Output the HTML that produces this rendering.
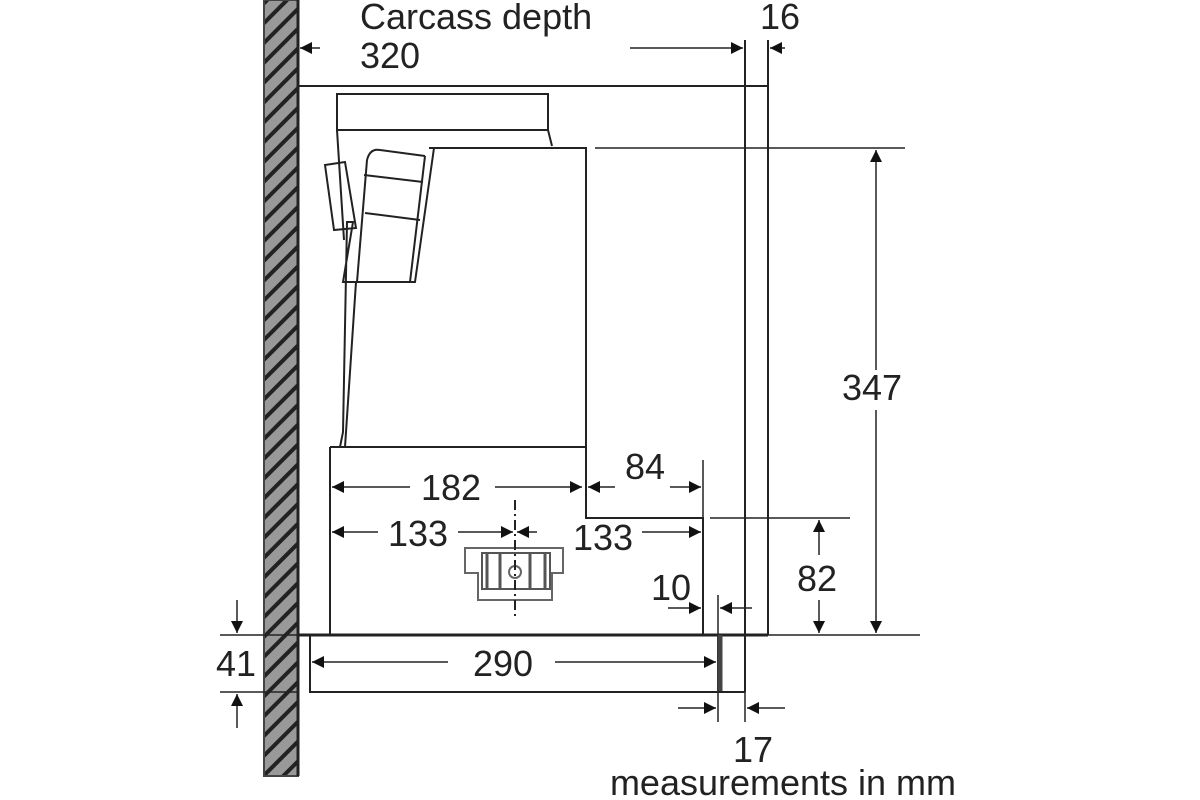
<!DOCTYPE html>
<html><head><style>html,body{margin:0;padding:0;background:#fff}svg{display:block}</style></head>
<body>
<svg width="1200" height="800" viewBox="0 0 1200 800" xmlns="http://www.w3.org/2000/svg" font-family="Liberation Sans, sans-serif" fill="none" stroke="#222" stroke-width="2">
<defs>
<pattern id="h" width="14" height="14" patternUnits="userSpaceOnUse" patternTransform="rotate(-45)">
<rect width="14" height="14" fill="#999" stroke="none"/><line x1="0" y1="7" x2="14" y2="7" stroke="#222" stroke-width="4"/>
</pattern>
<marker id="a" viewBox="0 0 10 10" refX="10" refY="5" markerWidth="16" markerHeight="12" markerUnits="userSpaceOnUse" orient="auto"><path d="M0,0L10,5L0,10z" fill="#111" stroke="none"/></marker>
</defs>
<rect x="264" y="0" width="34" height="776" fill="url(#h)" stroke="#444"/>
<line x1="298" y1="0" x2="298" y2="776" stroke-width="3"/>
<path d="M298 86H768V635"/>
<line x1="745" y1="40" x2="745" y2="692"/>
<line x1="768" y1="40" x2="768" y2="86"/>
<line x1="298" y1="635" x2="768" y2="635" stroke-width="3"/>
<rect x="337" y="94" width="211" height="36"/>
<path d="M337 130L344 240M548 130L552 146"/>
<path d="M325 165L345 162L356 228L334 230z"/>
<path d="M429 148H586V447M434 148L415 282H343L353 222H347L343 432L340 447"/>
<path d="M367 160Q370 148 380 150L425 156M364 175L423 182M365 213L420 220"/>
<path d="M367 160L357 282M425 156L410 282M356 282L345 447"/>
<path d="M330 447H586V518H703V635M330 447V635"/>
<rect x="310" y="635" width="408" height="57"/>
<line x1="720" y1="635" x2="720" y2="692" stroke-width="5" stroke="#444"/>
<line x1="718" y1="692" x2="745" y2="692"/>
<path d="M465 548H563V573H552V600H478V573H465z" stroke="#666"/>
<rect x="482" y="553" width="68" height="36" stroke="#555"/>
<path d="M487 553V589M500 553V589M530 553V589M545 553V589" stroke="#555" stroke-width="3"/>
<circle cx="515" cy="572" r="6" stroke="#666"/>
<line x1="515" y1="500" x2="515" y2="620" stroke-dasharray="10 4 2 4"/>
<path d="M595 148H905M768 635H920M710 518H850M703 460V518M718 595V635M220 635H298M220 692H298M745 692V722M718 692V722" stroke-width="1.5"/>
<g stroke-width="1.5" marker-end="url(#a)">
<line x1="320" y1="48" x2="300" y2="48"/>
<line x1="630" y1="48" x2="743" y2="48"/>
<line x1="785" y1="48" x2="770" y2="48"/>
<line x1="876" y1="370" x2="876" y2="150"/>
<line x1="876" y1="410" x2="876" y2="633"/>
<line x1="819" y1="555" x2="819" y2="520"/>
<line x1="819" y1="600" x2="819" y2="633"/>
<line x1="410" y1="487" x2="332" y2="487"/>
<line x1="495" y1="487" x2="582" y2="487"/>
<line x1="615" y1="487" x2="588" y2="487"/>
<line x1="670" y1="487" x2="701" y2="487"/>
<line x1="378" y1="532" x2="332" y2="532"/>
<line x1="458" y1="532" x2="513" y2="532"/>
<line x1="537" y1="532" x2="517" y2="532"/>
<line x1="642" y1="532" x2="701" y2="532"/>
<line x1="668" y1="608" x2="701" y2="608"/>
<line x1="752" y1="608" x2="720" y2="608"/>
<line x1="448" y1="662" x2="312" y2="662"/>
<line x1="555" y1="662" x2="716" y2="662"/>
<line x1="237" y1="600" x2="237" y2="633"/>
<line x1="237" y1="728" x2="237" y2="694"/>
<line x1="678" y1="708" x2="716" y2="708"/>
<line x1="785" y1="708" x2="747" y2="708"/>
</g>
<g fill="#222" stroke="none" font-size="36" text-anchor="middle">
<text x="360" y="29" text-anchor="start">Carcass depth</text>
<text x="360" y="68" text-anchor="start">320</text>
<text x="780" y="29">16</text>
<text x="872" y="400">347</text>
<text x="817" y="591">82</text>
<text x="451" y="500">182</text>
<text x="645" y="479">84</text>
<text x="418" y="546">133</text>
<text x="603" y="550">133</text>
<text x="671" y="600">10</text>
<text x="503" y="676">290</text>
<text x="236" y="676">41</text>
<text x="753" y="762">17</text>
<text x="783" y="795">measurements in mm</text>
</g>
</svg>
</body></html>
